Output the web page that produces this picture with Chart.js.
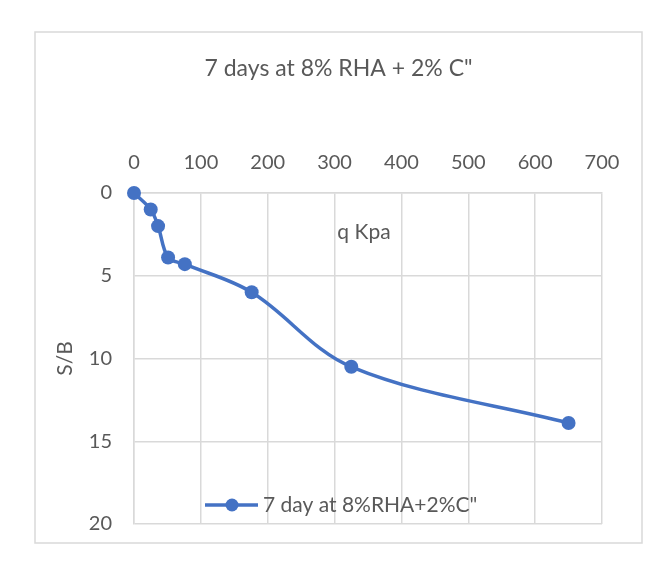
<!DOCTYPE html>
<html>
<head>
<meta charset="utf-8">
<script src="https://cdn.jsdelivr.net/npm/chart.js@4/dist/chart.umd.min.js"></script>
<style>
  html, body { margin: 0; padding: 0; background: #ffffff; }
  #wrap { position: relative; width: 667px; height: 569px; }
</style>
</head>
<body>
<div id="wrap"><canvas id="c" width="667" height="569"></canvas></div>
<script>
const chartTitle = '7 days at 8% RHA + 2% C"';
const seriesLabel = '7 day at 8%RHA+2%C"';
const xAxisTitle = 'q Kpa';
const yAxisTitle = 'S/B';
const qKpa = [0, 25, 36, 51, 76, 176, 325, 650];
const sOverB = [0, 1, 2, 3.9, 4.3, 6, 10.5, 13.9];
const xTicks = [0, 100, 200, 300, 400, 500, 600, 700];
const yTicks = [0, 5, 10, 15, 20];

const FONT = 'Lato, "Open Sans", sans-serif';
const TEXT = '#595959';
const GRID = '#d9d9d9';
const BLUE = '#4472C4';

const points = qKpa.map((q, i) => ({ x: q, y: sOverB[i] }));

const extras = {
  id: 'extras',
  beforeDraw(chart) {
    const ctx = chart.ctx;
    ctx.save();
    ctx.fillStyle = '#ffffff';
    ctx.fillRect(0, 0, chart.width, chart.height);
    ctx.strokeStyle = GRID;
    ctx.lineWidth = 1.5;
    ctx.strokeRect(35, 32, 607, 511);
    ctx.restore();
  },
  afterDraw(chart) {
    const ctx = chart.ctx;
    const a = chart.chartArea;
    ctx.save();
    ctx.fillStyle = TEXT;
    ctx.textAlign = 'center';
    ctx.textBaseline = 'middle';
    // chart title
    ctx.font = '23px ' + FONT;
    ctx.fillText(chartTitle, 338.5, 69);
    // x-axis title, placed inside the plot like the original
    ctx.font = '21px ' + FONT;
    ctx.fillText(xAxisTitle, a.left + 230, a.top + 39);
    // legend inside plot
    const ds = chart.data.datasets[0];
    const ly = a.top + 312;
    const lx = a.left + 71;
    ctx.strokeStyle = ds.borderColor;
    ctx.lineWidth = 3.5;
    ctx.beginPath();
    ctx.moveTo(lx, ly);
    ctx.lineTo(lx + 53, ly);
    ctx.stroke();
    ctx.fillStyle = ds.pointBackgroundColor;
    ctx.beginPath();
    ctx.arc(lx + 27, ly, 6.5, 0, Math.PI * 2);
    ctx.fill();
    ctx.fillStyle = TEXT;
    ctx.textAlign = 'left';
    ctx.fillText(ds.label, lx + 58, ly);
    ctx.restore();
  }
};

new Chart(document.getElementById('c'), {
  type: 'scatter',
  data: {
    datasets: [{
      label: seriesLabel,
      data: points,
      showLine: true,
      clip: false,
      borderColor: BLUE,
      backgroundColor: BLUE,
      pointBackgroundColor: BLUE,
      pointBorderColor: BLUE,
      borderWidth: 3.5,
      pointRadius: 7,
      pointBorderWidth: 0,
      pointHoverRadius: 7,
      tension: 0.35
    }]
  },
  options: {
    responsive: false,
    animation: false,
    devicePixelRatio: 1,
    layout: { padding: { top: 0, left: 0, right: 65, bottom: 45 } },
    plugins: {
      legend: { display: false },
      tooltip: { enabled: false },
      title: { display: false }
    },
    scales: {
      x: {
        type: 'linear',
        position: 'top',
        min: 0,
        max: 700,
        afterBuildTicks(scale) { scale.ticks = xTicks.map(v => ({ value: v })); },
        afterFit(scale) { scale.height = 193; },
        ticks: { color: TEXT, font: { family: FONT, size: 20 }, padding: 18 },
        grid: { color: GRID, lineWidth: 1.5, drawTicks: false },
        border: { color: GRID, width: 1.5 }
      },
      y: {
        type: 'linear',
        reverse: true,
        min: 0,
        max: 20,
        afterBuildTicks(scale) { scale.ticks = yTicks.map(v => ({ value: v })); },
        afterFit(scale) { scale.width = 134; },
        ticks: { color: TEXT, font: { family: FONT, size: 20 }, padding: 22 },
        grid: { color: GRID, lineWidth: 1.5, drawTicks: false },
        border: { color: GRID, width: 1.5 },
        title: {
          display: true,
          text: yAxisTitle,
          color: TEXT,
          font: { family: FONT, size: 21 },
          padding: { top: 53, bottom: 4 }
        }
      }
    }
  },
  plugins: [extras]
});
</script>
</body>
</html>
